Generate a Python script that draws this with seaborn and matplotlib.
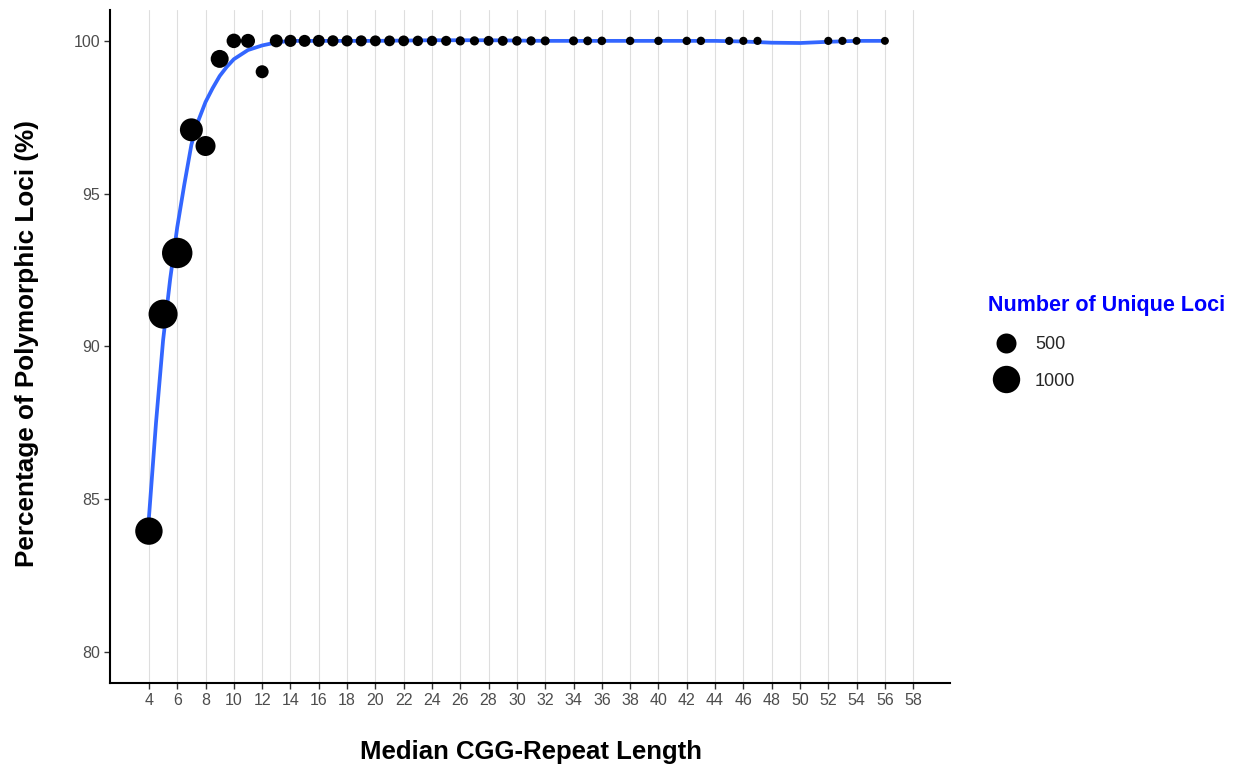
import numpy as np
import pandas as pd
import matplotlib
matplotlib.use("Agg")
import matplotlib.pyplot as plt
from matplotlib.lines import Line2D
import seaborn as sns

# median CGG repeat length, % polymorphic loci, number of unique loci
repeat_len = [4, 5, 6, 7, 8, 9, 10, 11, 12, 13, 14, 15, 16, 17, 18, 19, 20, 21, 22,
              23, 24, 25, 26, 27, 28, 29, 30, 31, 32, 34, 35, 36, 38, 40, 42, 43,
              45, 46, 47, 52, 53, 54, 56]
pct_poly = [83.96, 91.06, 93.06, 97.09, 96.56, 99.41, 100, 100, 98.99, 100, 100, 100,
            100, 100, 100, 100, 100, 100, 100, 100, 100, 100, 100, 100, 100, 100, 100,
            100, 100, 100, 100, 100, 100, 100, 100, 100, 100, 100, 100, 100, 100, 100, 100]
n_loci = [1000, 1130, 1250, 680, 500, 390, 230, 210, 170, 170, 140, 135, 135, 110, 110,
          105, 100, 95, 95, 85, 80, 75, 50, 50, 70, 70, 60, 50, 45, 45, 40, 35, 30, 30,
          30, 30, 25, 25, 25, 25, 25, 20, 20]

# smoothed trend
smooth_x = [4, 4.5, 5, 5.5, 6, 6.5, 7, 7.5, 8, 8.5, 9, 9.5, 10, 11, 12, 13, 14, 16,
            20, 24, 28, 32, 36, 40, 44, 46, 48, 50, 52, 54, 56]
smooth_y = [84.4, 87.5, 90.2, 92.2, 93.9, 95.3, 96.6, 97.4, 98.0, 98.45, 98.85, 99.15,
            99.4, 99.7, 99.85, 99.95, 100, 100, 100, 100.02, 100.02, 100, 100, 100, 100,
            99.98, 99.94, 99.93, 99.97, 100, 100]

legend_vals = [500, 1000]
x_ticks = list(range(4, 59, 2))
y_ticks = [80, 85, 90, 95, 100]

df = pd.DataFrame({"len": repeat_len, "pct": pct_poly, "n": n_loci})
trend = pd.DataFrame({"x": smooth_x, "y": smooth_y})

sns.set_style("white")
plt.rcParams["font.family"] = ["Liberation Sans", "DejaVu Sans"]

fig = plt.figure(figsize=(12.39, 7.70), dpi=100)
ax = fig.add_axes([110 / 1239, 1 - 683 / 770, 840 / 1239, 673 / 770])

size_norm = (20, 1250)
sizes = (33, 480)

sns.lineplot(data=trend, x="x", y="y", color="#3366FF", linewidth=2.7, ax=ax, zorder=2)
sns.scatterplot(data=df, x="len", y="pct", size="n", sizes=sizes, size_norm=size_norm,
                color="black", linewidth=0, legend=False, ax=ax, zorder=3)

ax.set_xlim(1.25, 60.6)
ax.set_ylim(78.99, 101.01)
ax.set_xticks(x_ticks)
ax.set_yticks(y_ticks)
ax.xaxis.grid(True, color="#dedede", linewidth=0.8)
ax.yaxis.grid(False)
ax.set_axisbelow(True)
for side in ["top", "right"]:
    ax.spines[side].set_visible(False)
for side in ["left", "bottom"]:
    ax.spines[side].set_color("black")
    ax.spines[side].set_linewidth(1.5)
ax.tick_params(axis="both", length=4, width=1, color="#333333", labelsize=11.5,
               labelcolor="#4d4d4d", pad=3, bottom=True, left=True)

ax.set_xlabel("Median CGG-Repeat Length", fontsize=18.5, fontweight="bold", color="black")
ax.set_ylabel("Percentage of Polymorphic Loci (%)", fontsize=18.8, fontweight="bold",
              color="black")
ax.xaxis.set_label_coords(0.501, -0.085)
ax.yaxis.set_label_coords(-0.085, 0.505)

# size legend
def area(v):
    return sizes[0] + (sizes[1] - sizes[0]) * (v - size_norm[0]) / (size_norm[1] - size_norm[0])

handles = [Line2D([], [], linestyle="none", marker="o", color="black",
                  markersize=np.sqrt(area(v)), markeredgewidth=0) for v in legend_vals]
leg = fig.legend(handles, [str(v) for v in legend_vals], title="Number of Unique Loci",
                 loc="upper left", bbox_to_anchor=(979 / 1239, 1 - 286 / 770),
                 frameon=False, fontsize=13, title_fontproperties={"weight": "bold", "size": 15.5},
                 handlelength=2.0, handletextpad=0.6, labelspacing=1.1, borderpad=0,
                 alignment="left")
leg.get_title().set_color("#0000FF")

fig.savefig("out.png", dpi=100)
